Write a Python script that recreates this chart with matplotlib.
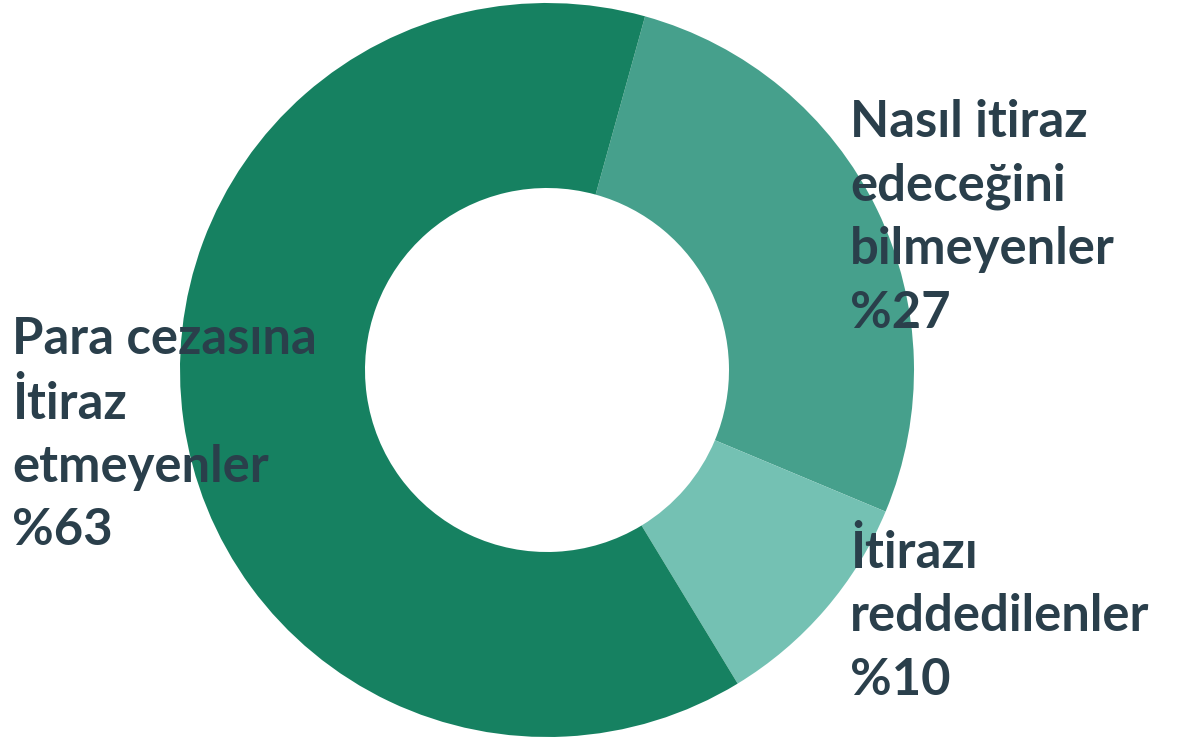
import matplotlib
matplotlib.use("Agg")
import matplotlib.pyplot as plt

# data
labels = ["Nasıl itiraz\nedeceğini\nbilmeyenler\n%27",
          "İtirazı\nreddedilenler\n%10",
          "Para cezasına\nİtiraz\netmeyenler\n%63"]
values = [27, 10, 63]
colors = ["#46a08c", "#74c1b3", "#168161"]

W, H = 1189, 740
fig = plt.figure(figsize=(W / 100, H / 100), dpi=100)
ax = fig.add_axes([0, 0, 1, 1])

cx, cy, r = 547, H - 370, 367
ax.pie(values, colors=colors, startangle=74.5, counterclock=False,
       center=(cx, cy), radius=r, frame=True,
       wedgeprops=dict(width=185, linewidth=0))
ax.set_xlim(0, W)
ax.set_ylim(0, H)
ax.set_aspect("equal")
ax.axis("off")

txt = dict(color="#2a3f4b", fontsize=36.5, family=["Lato", "DejaVu Sans"],
           fontweight="bold", linespacing=1.43, va="top", ha="left")
pos = [(850, 99), (850, 529), (12, 316)]
for lab, (x, y) in zip(labels, pos):
    ax.text(x, H - y, lab, **txt)

fig.savefig("out.png", dpi=100)
